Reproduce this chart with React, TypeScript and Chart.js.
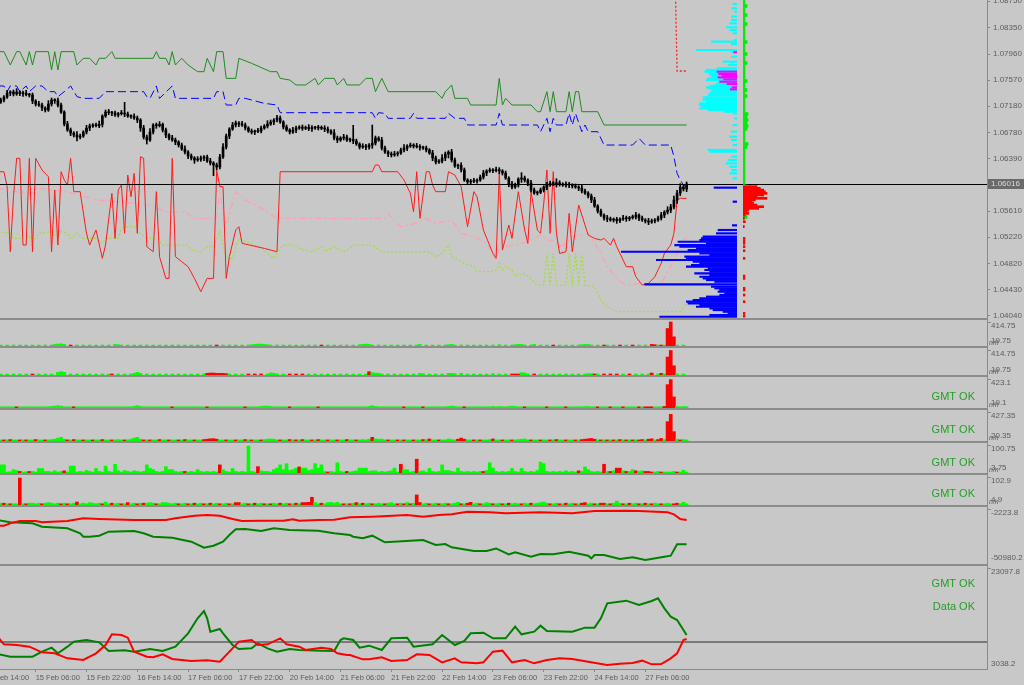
import React, { useEffect, useRef } from "react";
import { Chart, registerables } from "chart.js";

Chart.register(...registerables);

// ---------------- time axis (H1 bars, index 0 = 14 Feb 14:00) ----------------
const FIRST_BAR = 5;
const X_MIN = 4.76;
const X_MAX = 315.6;
const TIME_TICKS = [0, 16, 32, 48, 64, 80, 96, 112, 128, 144, 160, 176, 192, 208];
const TIME_LABELS = [
  "14 Feb 14:00", "15 Feb 06:00", "15 Feb 22:00", "16 Feb 14:00", "17 Feb 06:00",
  "17 Feb 22:00", "20 Feb 14:00", "21 Feb 06:00", "21 Feb 22:00", "22 Feb 14:00",
  "23 Feb 06:00", "23 Feb 22:00", "24 Feb 14:00", "27 Feb 06:00",
];

// ---------------- price panel ----------------
const PRICE_MIN = 1.04009;
const PRICE_MAX = 1.08769;
const PRICE_TICKS = [1.0404, 1.0443, 1.0482, 1.0522, 1.0561, 1.0639, 1.0678, 1.0718, 1.0757, 1.0796, 1.0835, 1.0875];
const LAST_PRICE = 1.06016;
const OPEN_FIRST = 1.0724;

const CLOSES = [
  1.07272, 1.07317, 1.07377, 1.07392, 1.07362, 1.07392, 1.07367, 1.07377, 1.07352, 1.07347,
  1.07257, 1.07212, 1.07197, 1.07152, 1.07122, 1.07212, 1.07272, 1.07262, 1.07197, 1.07092,
  1.06913, 1.06823, 1.06778, 1.06748, 1.06718, 1.06733, 1.06793, 1.06853, 1.06883, 1.06898,
  1.06888, 1.06908, 1.07032, 1.07092, 1.07082, 1.07077, 1.07047, 1.07067, 1.07077, 1.07062,
  1.07032, 1.07027, 1.07003, 1.06973, 1.06853, 1.06718, 1.06673, 1.06793, 1.06898, 1.06888,
  1.06908, 1.06823, 1.06748, 1.06703, 1.06673, 1.06643, 1.06598, 1.06538, 1.06494, 1.06434,
  1.06404, 1.06374, 1.06384, 1.06404, 1.06419, 1.06359, 1.06329, 1.06299, 1.06269, 1.06419,
  1.06568, 1.06733, 1.06838, 1.06898, 1.06928, 1.06913, 1.06898, 1.06853, 1.06808, 1.06793,
  1.06803, 1.06808, 1.06853, 1.06883, 1.06913, 1.06943, 1.06973, 1.07003, 1.06943, 1.06868,
  1.06823, 1.06793, 1.06823, 1.06853, 1.06868, 1.06848, 1.06863, 1.06843, 1.06858, 1.06853,
  1.06863, 1.06848, 1.06838, 1.06808, 1.06778, 1.06703, 1.06673, 1.06703, 1.06718, 1.06673,
  1.06683, 1.06658, 1.06613, 1.06568, 1.06578, 1.06568, 1.06598, 1.06628, 1.06703, 1.06673,
  1.06553, 1.06494, 1.06464, 1.06449, 1.06464, 1.06479, 1.06524, 1.06553, 1.06583, 1.06598,
  1.06583, 1.06573, 1.06563, 1.06553, 1.06524, 1.06479, 1.06404, 1.06344, 1.06359, 1.06404,
  1.06464, 1.06494, 1.06374, 1.06284, 1.06294, 1.06224, 1.06074, 1.06044, 1.06054, 1.06059,
  1.06074, 1.06119, 1.06179, 1.06209, 1.06224, 1.06214, 1.06229, 1.06209, 1.06179, 1.06104,
  1.06014, 1.0597, 1.05999, 1.06089, 1.06104, 1.06074, 1.06029, 1.05925, 1.0588, 1.0589,
  1.05925, 1.0597, 1.05999, 1.06029, 1.06019, 1.06034, 1.06014, 1.05999, 1.06009, 1.05999,
  1.05985, 1.0597, 1.05955, 1.0591, 1.0588, 1.05835, 1.05775, 1.05685, 1.0561, 1.0555,
  1.05505, 1.0549, 1.05476, 1.05486, 1.05466, 1.0549, 1.05505, 1.05495, 1.0551, 1.0552,
  1.0555, 1.05505, 1.05476, 1.05461, 1.05446, 1.05461, 1.05476, 1.05505, 1.0555, 1.05595,
  1.05625, 1.0567, 1.05775, 1.0588, 1.0597, 1.0594, 1.06016,
];
// wick extensions in pips (0.0001)
const WICK_UP_PIPS = [
  3, 2, 4, 2, 3, 5, 2, 3, 4, 2, 3, 2, 4, 3, 2, 5, 3, 2, 4, 3,
  2, 4, 3, 2, 5, 3, 2, 4, 3, 2, 3, 5, 2, 3, 4, 2, 3, 2, 4, 16,
  3, 2, 4, 3, 2, 4, 3, 5, 2, 3, 4, 2, 3, 2, 4, 3, 2, 3, 5, 2,
  3, 2, 4, 3, 2, 3, 4, 2, 3, 4, 5, 3, 2, 4, 3, 2, 4, 3, 2, 3,
  2, 4, 3, 2, 5, 3, 2, 4, 3, 2, 3, 2, 4, 3, 2, 3, 2, 4, 3, 2,
  3, 2, 4, 3, 2, 5, 3, 2, 4, 3, 2, 21, 3, 2, 4, 3, 2, 27, 3, 2,
  4, 3, 2, 3, 4, 2, 3, 5, 2, 3, 2, 4, 3, 2, 3, 2, 4, 3, 2, 5,
  3, 2, 4, 3, 2, 4, 3, 2, 3, 4, 2, 3, 4, 2, 3, 2, 4, 3, 2, 3,
  2, 4, 3, 2, 8, 3, 2, 4, 3, 2, 3, 2, 4, 3, 2, 6, 3, 2, 4, 3,
  2, 3, 2, 4, 3, 2, 3, 4, 2, 3, 2, 4, 3, 2, 3, 2, 4, 3, 2, 3,
  4, 2, 3, 2, 4, 3, 2, 3, 4, 2, 5, 4, 6, 4, 5, 4, 3,
];
const WICK_DN_PIPS = [
  2, 3, 2, 4, 3, 2, 3, 4, 2, 3, 4, 3, 2, 4, 3, 2, 3, 4, 3, 2,
  3, 2, 4, 3, 6, 3, 2, 3, 4, 2, 2, 3, 4, 2, 3, 4, 2, 3, 2, 4,
  2, 3, 2, 4, 5, 3, 6, 2, 3, 4, 2, 3, 4, 3, 2, 4, 3, 2, 3, 4,
  3, 5, 2, 3, 4, 2, 3, 16, 4, 3, 2, 3, 4, 2, 3, 4, 2, 3, 2, 3,
  4, 2, 3, 2, 3, 2, 4, 3, 2, 3, 2, 3, 2, 4, 2, 3, 2, 3, 4, 2,
  3, 2, 4, 3, 2, 3, 4, 2, 3, 2, 3, 4, 2, 3, 2, 4, 3, 5, 3, 2,
  3, 2, 4, 3, 2, 3, 2, 3, 4, 2, 3, 2, 4, 2, 3, 2, 4, 3, 2, 3,
  4, 6, 3, 2, 4, 3, 2, 3, 4, 2, 3, 2, 3, 4, 2, 3, 2, 4, 3, 2,
  4, 3, 2, 3, 5, 3, 4, 3, 2, 3, 2, 3, 4, 2, 3, 5, 3, 2, 3, 4,
  3, 2, 4, 3, 2, 3, 4, 2, 3, 2, 3, 4, 2, 3, 4, 3, 2, 4, 3, 2,
  3, 4, 2, 3, 4, 2, 3, 2, 3, 4, 3, 4, 3, 5, 4, 3, 4,
];

// indicator lines on the price panel: [bar index, price]
const GREEN_BAND = [
  [4, 1.07996], [6, 1.07996], [8, 1.07796], [10, 1.07996], [11, 1.07996], [13, 1.07796], [14, 1.07996], [15, 1.07796], [16, 1.07996],
  [20, 1.07996], [21, 1.07721], [22, 1.07996], [23, 1.07721], [24, 1.07996], [28, 1.07996], [29, 1.07796], [31, 1.07896], [33, 1.07896],
  [35, 1.07796], [36, 1.07896], [38, 1.07896], [40, 1.07996], [41, 1.07896], [53, 1.07896], [54, 1.07996], [55, 1.07896], [57, 1.07896],
  [58, 1.07796], [59, 1.07996], [60, 1.07796], [62, 1.07896], [64, 1.07796], [67, 1.07696], [69, 1.07696], [70, 1.07896], [72, 1.07696],
  [73, 1.07996], [75, 1.07996], [76, 1.07596], [79, 1.07596], [80, 1.07896], [84, 1.07821], [90, 1.07696], [92, 1.07696], [93, 1.07596],
  [96, 1.07571], [98, 1.07497], [101, 1.07497], [104, 1.07596], [105, 1.07497], [107, 1.07596], [110, 1.07596], [111, 1.07497],
  [113, 1.07596], [114, 1.07497], [118, 1.07497], [120, 1.07596], [122, 1.07596], [123, 1.07397], [125, 1.07596], [127, 1.07397],
  [142, 1.07397], [144, 1.07297], [145, 1.07397], [147, 1.07497], [148, 1.07297], [152, 1.07297], [153, 1.07197], [161, 1.07197],
  [162, 1.07596], [163, 1.07197], [164, 1.07297], [166, 1.07197], [172, 1.07197], [174, 1.07097], [175, 1.07097], [177, 1.07397],
  [178, 1.07097], [179, 1.07397], [180, 1.07097], [183, 1.07097], [184, 1.07397], [185, 1.07097], [186, 1.07397], [187, 1.07397],
  [188, 1.07097], [193, 1.07097], [195, 1.06898], [221, 1.06898],
];
const BLUE_BAND = [
  [4, 1.07482], [6, 1.07482], [7, 1.07397], [8, 1.07482], [10, 1.07482], [11, 1.07397], [13, 1.07482], [14, 1.07397], [16, 1.07482],
  [18, 1.07482], [20, 1.07397], [22, 1.07397], [23, 1.07322], [25, 1.07397], [27, 1.07482], [29, 1.07322], [31, 1.07297], [36, 1.07297],
  [38, 1.07397], [50, 1.07397], [51, 1.07322], [52, 1.07297], [54, 1.07482], [55, 1.07297], [59, 1.07482], [60, 1.07297], [72, 1.07297],
  [73, 1.07397], [75, 1.07397], [76, 1.07197], [79, 1.07197], [80, 1.07297], [82, 1.07297], [88, 1.07222], [92, 1.07197], [93, 1.07082],
  [122, 1.07082], [123, 1.06998], [124, 1.07082], [126, 1.07072], [127, 1.06998], [134, 1.06998], [135, 1.07072], [136, 1.06998],
  [145, 1.06998], [146, 1.07072], [148, 1.06998], [151, 1.06998], [152, 1.06898], [161, 1.06898], [162, 1.07072], [163, 1.06898],
  [174, 1.06898], [175, 1.06798], [177, 1.06998], [178, 1.06798], [179, 1.06998], [180, 1.06898], [183, 1.06898], [184, 1.07072],
  [185, 1.06898], [186, 1.07072], [188, 1.06798], [189, 1.06898], [190, 1.06798], [193, 1.06798], [195, 1.06598], [204, 1.06598],
  [206, 1.06698], [208, 1.06598], [216, 1.06598], [217, 1.06424], [218, 1.06174], [219, 1.06074], [220, 1.05999], [221, 1.05975],
];
const RED_SIGNAL = [
  [4, 1.06199], [6, 1.06199], [7, 1.05975], [8, 1.05001], [9, 1.05825], [10, 1.06399], [11, 1.06399], [12, 1.05101], [13, 1.05101],
  [14, 1.06399], [15, 1.05001], [16, 1.06399], [18, 1.06224], [20, 1.06124], [21, 1.05001], [22, 1.05925], [23, 1.05101], [24, 1.06199],
  [25, 1.06074], [26, 1.05999], [27, 1.06399], [28, 1.059], [30, 1.059], [32, 1.05276], [33, 1.05101], [35, 1.05326], [37, 1.04902],
  [38, 1.05101], [40, 1.05875], [41, 1.05201], [42, 1.05925], [43, 1.05999], [44, 1.05276], [45, 1.06149], [46, 1.05825], [47, 1.06174],
  [48, 1.05276], [49, 1.06424], [50, 1.06399], [51, 1.05076], [53, 1.05001], [54, 1.059], [55, 1.04927], [57, 1.04602], [58, 1.04602],
  [59, 1.06399], [60, 1.04927], [62, 1.04852], [64, 1.04777], [66, 1.04602], [68, 1.04403], [70, 1.04602], [72, 1.04602], [73, 1.06224],
  [74, 1.05975], [75, 1.05975], [76, 1.04602], [77, 1.04927], [79, 1.05326], [80, 1.05376], [81, 1.05126], [88, 1.05051], [92, 1.05001],
  [93, 1.06199], [122, 1.06199], [123, 1.06299], [124, 1.06299], [125, 1.06199], [130, 1.06199], [132, 1.06074], [134, 1.05875],
  [135, 1.056], [136, 1.06199], [137, 1.055], [139, 1.06199], [140, 1.06199], [141, 1.05999], [142, 1.059], [145, 1.059], [146, 1.06199],
  [148, 1.06149], [150, 1.05975], [152, 1.05376], [154, 1.059], [155, 1.05825], [157, 1.05326], [160, 1.04976], [161, 1.04902],
  [162, 1.06174], [163, 1.05026], [165, 1.05401], [166, 1.05201], [168, 1.059], [170, 1.05326], [171, 1.05126], [172, 1.059],
  [174, 1.05326], [175, 1.05276], [176, 1.05725], [177, 1.06224], [178, 1.05276], [179, 1.06199], [180, 1.05276], [181, 1.04976],
  [183, 1.05001], [184, 1.05575], [185, 1.05001], [187, 1.057], [190, 1.05251], [192, 1.05201], [194, 1.05176], [195, 1.05201],
  [197, 1.05101], [198, 1.05201], [199, 1.05076], [201, 1.04877], [202, 1.04777], [204, 1.04777], [205, 1.04627], [207, 1.04502],
  [209, 1.04527], [211, 1.04627], [213, 1.04827], [214, 1.04976], [216, 1.05101], [217, 1.05276], [218, 1.05775], [219, 1.058], [221, 1.058],
];
const PINK_SIGNAL = [
  [4, 1.0595], [10, 1.059], [15, 1.05875], [16, 1.0595], [26, 1.059], [31, 1.05825], [36, 1.05775], [48, 1.05725], [53, 1.05675],
  [57, 1.056], [63, 1.056], [66, 1.055], [72, 1.055], [73, 1.05525], [74, 1.05875], [76, 1.05401], [79, 1.059], [82, 1.05775],
  [88, 1.05625], [92, 1.055], [126, 1.055], [127, 1.05575], [129, 1.05451], [131, 1.05376], [134, 1.05401], [137, 1.05451],
  [139, 1.055], [140, 1.05475], [142, 1.05426], [147, 1.05475], [150, 1.05276], [154, 1.05226], [158, 1.05126], [160, 1.04976],
  [161, 1.04927], [162, 1.05051], [164, 1.05076], [167, 1.05101], [171, 1.05151], [175, 1.05251], [177, 1.05176], [179, 1.05176],
  [181, 1.05076], [183, 1.05126], [185, 1.05226], [190, 1.05276], [194, 1.04976], [196, 1.04777], [199, 1.04602], [201, 1.04527],
  [203, 1.04502], [206, 1.04527], [209, 1.04502], [213, 1.04527], [216, 1.04777], [218, 1.04976], [220, 1.05176], [221, 1.05201],
];
const LIME_SIGNAL = [
  [4, 1.05301], [8, 1.05276], [9, 1.05201], [11, 1.05201], [13, 1.05276], [14, 1.05201], [16, 1.05201], [17, 1.05276], [21, 1.05301],
  [23, 1.05201], [24, 1.05301], [26, 1.05276], [27, 1.05201], [29, 1.05276], [31, 1.05201], [35, 1.05201], [37, 1.05126], [38, 1.05201],
  [42, 1.05201], [43, 1.05351], [45, 1.05376], [47, 1.05376], [49, 1.05276], [51, 1.05201], [54, 1.05201], [56, 1.05101], [64, 1.05101],
  [65, 1.05026], [68, 1.05001], [70, 1.05076], [72, 1.05076], [74, 1.05301], [76, 1.04902], [78, 1.04902], [80, 1.05201], [87, 1.05051],
  [91, 1.04902], [93, 1.05051], [94, 1.05101], [97, 1.05101], [99, 1.05051], [103, 1.05001], [106, 1.05076], [107, 1.05001],
  [110, 1.05076], [113, 1.05001], [115, 1.05051], [116, 1.05101], [122, 1.05101], [125, 1.05001], [140, 1.05001], [142, 1.04927],
  [144, 1.04976], [146, 1.05101], [147, 1.04927], [151, 1.04827], [154, 1.04777], [155, 1.04702], [160, 1.04702], [161, 1.04727],
  [162, 1.04827], [163, 1.04727], [164, 1.04777], [166, 1.04727], [167, 1.04627], [170, 1.04677], [174, 1.04502], [176, 1.04502],
  [177, 1.04976], [178, 1.04502], [179, 1.04976], [180, 1.04502], [183, 1.04502], [184, 1.04976], [185, 1.04502], [186, 1.04976],
  [187, 1.04502], [188, 1.04976], [189, 1.04502], [192, 1.04478], [194, 1.04278], [196, 1.04178], [199, 1.04103], [219, 1.04103],
  [221, 1.04228],
];
const RED_TARGET = [[217, 1.1], [218, 1.07706], [221, 1.07706]];

// volume profile: [price, volume]
const PROFILE_CYAN = [
  [1.08709, 12], [1.08644, 17], [1.08594, 7], [1.0852, 17], [1.0847, 17], [1.0842, 22], [1.0836, 32], [1.0832, 22], [1.0827, 12],
  [1.0817, 7], [1.08145, 77], [1.0811, 17], [1.0802, 122], [1.07996, 17], [1.07921, 17], [1.07846, 42], [1.07796, 27], [1.07746, 60],
  [1.07721, 92], [1.07696, 97], [1.07671, 85], [1.07646, 82], [1.07621, 75], [1.07611, 57], [1.07596, 88], [1.07571, 92], [1.07546, 52],
  [1.07522, 60], [1.07497, 67], [1.07482, 80], [1.07462, 92], [1.07442, 85], [1.07422, 72], [1.07397, 78], [1.07372, 82], [1.07347, 87],
  [1.07312, 102], [1.07297, 95], [1.07272, 102], [1.07247, 92], [1.07222, 112], [1.07197, 114], [1.07172, 107], [1.07147, 112],
  [1.07122, 87], [1.07097, 40], [1.07072, 12], [1.06998, 7], [1.06898, 12], [1.06798, 17], [1.06723, 22], [1.06673, 17], [1.06598, 12],
  [1.06524, 87], [1.06499, 82], [1.06424, 17], [1.06374, 27], [1.06324, 32], [1.06274, 22], [1.06224, 17], [1.06174, 22], [1.06099, 12],
];
const PROFILE_MAGENTA = [
  [1.07986, 10], [1.07696, 60], [1.07661, 55], [1.07631, 45], [1.07611, 57], [1.07581, 40], [1.07546, 52], [1.07512, 30],
  [1.07462, 15], [1.07432, 20],
];
const PROFILE_BLUE = [
  [1.0596, 69], [1.0575, 12], [1.05396, 14], [1.05326, 57], [1.05276, 62], [1.05226, 102], [1.05201, 107], [1.05176, 112],
  [1.05151, 177], [1.05126, 92], [1.05101, 187], [1.05076, 172], [1.05051, 122], [1.05026, 147], [1.05001, 347], [1.04976, 112],
  [1.04952, 82], [1.04927, 157], [1.04902, 152], [1.04877, 242], [1.04852, 132], [1.04827, 112], [1.04802, 137], [1.04777, 152],
  [1.04752, 87], [1.04727, 97], [1.04702, 82], [1.04677, 127], [1.04652, 82], [1.04627, 112], [1.04602, 102], [1.04577, 92],
  [1.04552, 67], [1.04513, 277], [1.04478, 77], [1.04453, 67], [1.04428, 52], [1.04403, 57], [1.04378, 37], [1.04353, 52],
  [1.04328, 92], [1.04303, 112], [1.04278, 132], [1.04253, 152], [1.04228, 147], [1.04203, 112], [1.04178, 122], [1.04153, 82],
  [1.04128, 72], [1.04103, 42], [1.04078, 27], [1.04053, 82], [1.04028, 232],
];
const PROFILE_RED_RIGHT = [
  [1.05975, 42], [1.0595, 52], [1.05925, 62], [1.059, 67], [1.05875, 72], [1.0585, 62], [1.05825, 42], [1.058, 72], [1.05775, 37],
  [1.0575, 27], [1.05725, 32], [1.057, 42], [1.05675, 62], [1.0565, 47], [1.05625, 17], [1.056, 12], [1.05575, 17], [1.0555, 7],
  [1.055, 4], [1.05451, 7], [1.05376, 4], [1.05201, 6], [1.05166, 6], [1.05126, 6], [1.05076, 6], [1.05016, 6], [1.04902, 6],
  [1.04637, 6], [1.04602, 6], [1.04453, 6], [1.04428, 6], [1.04353, 6], [1.04253, 6], [1.04078, 6], [1.04038, 6],
];
const PROFILE_GREEN_RIGHT = [
  [1.08769, 6], [1.08724, 6], [1.08679, 12], [1.08634, 6], [1.08589, 6], [1.08544, 12], [1.085, 6], [1.08455, 6], [1.0841, 12],
  [1.08365, 6], [1.0832, 6], [1.08275, 6], [1.0823, 6], [1.08185, 6], [1.0814, 12], [1.08095, 6], [1.0805, 6], [1.08005, 6],
  [1.07961, 12], [1.07916, 6], [1.07871, 6], [1.07826, 12], [1.07781, 6], [1.07736, 6], [1.07691, 6], [1.07646, 6], [1.07601, 6],
  [1.07556, 12], [1.07511, 6], [1.07466, 6], [1.07422, 12], [1.07377, 6], [1.07332, 12], [1.07287, 6], [1.07242, 6], [1.07197, 6],
  [1.07152, 6], [1.07107, 6], [1.07062, 15], [1.07017, 12], [1.06973, 15], [1.06928, 12], [1.06883, 15], [1.06838, 12], [1.06793, 6],
  [1.06748, 6], [1.06703, 6], [1.06658, 6], [1.06613, 15], [1.06568, 12], [1.06524, 6], [1.06479, 6], [1.06434, 6], [1.06389, 6],
  [1.06344, 6], [1.06299, 6], [1.06254, 6], [1.06209, 6], [1.06164, 6], [1.06119, 6], [1.06075, 6], [1.0603, 6], [1.0552, 12],
];

// ---------------- sub panels (signed: + green, - red) ----------------
const VOL_A = [
  35, 0, 35, 0, 35, 0, 35, 0, 35, 0, 35, 0, 35, 0, 35, 0, 35, 45, 50, 55,
  45, 0, -35, 0, 35, 0, 35, 0, 35, 0, 35, 0, 35, 0, 35, 0, 45, 40, 35, 0,
  35, 0, 35, 0, 35, 0, 35, 0, 35, 0, 35, 0, 35, 0, 35, 0, 35, 0, 35, 0,
  35, 0, 35, 0, 35, 0, 35, 0, -35, 0, 35, 0, 35, 0, 35, 0, 35, 0, 35, 40,
  45, 50, 50, 45, 40, 35, 0, 35, 0, 35, 0, 35, 0, 35, 0, 35, 0, 35, 0, 35,
  0, -35, 0, 35, 0, 35, 0, 35, 0, 35, 0, 35, 0, 40, 45, 50, 45, 35, 0, 35,
  0, 35, 0, 35, 0, 35, 0, 35, 0, 35, 0, 35, 45, 0, 35, 0, 35, 0, 35, 0,
  35, 40, 45, 35, 0, 35, 0, 35, 0, 35, 0, 35, 0, 35, 0, 35, 0, 40, 0, 35,
  0, 35, 40, 45, 45, 35, 0, 35, 45, 0, 35, 0, 35, 0, -35, 0, 35, 0, 35, 0,
  35, 0, 35, 40, 45, 45, 35, 0, 35, 0, -35, 35, 0, 35, 0, -35, 0, 35, 0, -35,
  0, 35, 0, 35, 0, -45, -40, 35, -35, 35, -296, -399, -165, 35, 0, 35, 0,
];
const VOL_B = [
  35, 0, 35, 0, 35, 0, 35, 0, 35, 0, -35, 0, 35, 0, 35, 0, 35, 0, 60, 70,
  60, 0, 35, 0, 35, 0, 35, 0, 35, 0, 35, 0, 35, 0, 35, -35, 0, 35, 0, 35,
  0, 35, 45, 60, 45, 0, 35, 0, 35, 0, 35, 0, 35, 0, 35, 0, 35, 0, 35, 0,
  35, 0, 35, 0, 35, -45, -50, -50, -45, -45, -45, -40, 35, 0, 35, 0, 35, 0, -35, 0,
  -35, 0, -35, 0, 35, 50, 45, 35, 0, 35, 0, -35, 0, -35, 0, -35, 0, 35, 0, 35,
  0, 35, 0, 35, 0, 35, 0, 35, 0, 35, 0, 35, 0, 35, 0, 35, -70, 55, 50, 45,
  35, 0, 35, 0, 35, 0, 35, 0, 35, 0, 35, 0, 45, 40, 0, 35, 0, 35, 0, 35,
  0, 45, 45, 40, 0, 45, 0, 35, 0, 35, 0, 35, 0, 35, 0, 40, 0, 35, 0, 35,
  0, -35, -35, -35, 55, 50, 35, 0, -35, 0, 35, 0, 35, 0, 35, 0, 35, 0, 35, 0,
  35, 0, 35, 0, 35, 40, 40, -35, 35, 0, -35, 0, -35, 0, -35, 0, 35, 0, -35, 0,
  35, 0, 35, 0, 35, -50, 0, 35, -45, 35, -293, -392, -160, 35, 0, 35, 0,
];
const VOL_C = [
  35, 35, 35, 35, 35, -35, 35, 35, 35, 35, 35, 35, 35, 35, 35, 35, 40, 45, 50, 45,
  35, 35, 35, -35, 35, 35, 35, 35, 35, 35, 35, 35, 35, 35, 35, 35, 35, 35, 35, 35,
  35, 35, 40, 50, 40, 35, 35, 35, 35, 35, 35, 35, 35, 35, -35, 35, 35, 35, 35, 35,
  35, 35, 35, 35, 35, -35, 35, 35, 35, 35, 35, 35, 35, 35, 35, 35, 35, -35, 35, 35,
  35, 35, 40, 45, 45, 40, 35, 35, 35, 35, 35, -35, 35, 35, 35, 35, 35, 35, 35, 35,
  -35, 35, 35, 35, 35, 35, 35, 35, 35, 35, 35, 35, 35, 35, 35, 35, 40, 50, 40, 35,
  35, 35, 35, 35, 35, 35, 35, -35, 35, 35, 35, 35, 35, -35, 35, 35, 35, 35, 35, 35,
  35, 40, 45, 40, 35, 35, -35, 35, 35, 35, 35, 35, 35, 35, 35, 40, 35, 40, 35, 35,
  40, 45, 40, 35, 35, -35, 35, 35, 35, 35, 35, 35, -35, 35, 35, 35, 35, 35, -35, 35,
  35, 35, 35, 35, 40, 40, 35, 35, -35, 35, 35, 35, -35, 35, 35, 35, -35, 35, 35, 35,
  35, -35, 35, -35, -35, -35, 35, 35, 35, -40, -334, -401, -168, 40, 35, 40, 35,
];
const VOL_D = [
  35, -35, 35, -40, 35, 35, -35, 35, -35, 35, 35, -40, 35, 35, -35, 35, 40, 45, 60, 70,
  45, -35, 35, -40, 35, 35, -35, 35, 35, -35, 35, 35, -40, 35, 35, -35, 35, 40, 35, -35,
  35, 45, 60, 70, 45, -35, 35, -35, 35, 35, -40, 35, 35, -35, 35, 35, -35, 35, -40, 35,
  35, -35, 35, 35, -40, -45, -50, -52, -45, 35, 35, -35, 35, 35, -35, 35, 35, -40, 35, -35,
  35, 35, -35, 40, 45, 48, 45, 35, -35, 35, 35, -40, 35, -35, 35, -40, 35, 35, -35, 35,
  -40, 35, 35, -35, 35, 35, -35, 35, 35, -40, 35, 35, -35, 35, 40, 35, 45, -70, 48, 45,
  45, 35, -35, 35, 35, -35, 35, -35, 35, 35, -35, 35, 35, -40, 40, -48, 35, 35, -35, 35,
  35, 48, 40, 35, -45, -60, -45, 35, 35, -35, 35, -35, 35, 35, 40, -48, 35, 35, -35, 35,
  35, -35, 35, 40, 45, 48, 35, -35, 35, 35, -35, 35, 35, -35, 35, -40, 35, 35, -35, 35,
  35, -35, 35, -40, -45, -50, -55, -45, 35, -35, 35, -35, 35, -35, 35, -40, 35, -35, 35, -35,
  35, -35, -40, 35, -45, -50, 35, -40, -55, 40, -283, -382, -147, 45, -35, 40, 35,
];
const VOL_E = [
  31, 31, 7, 8, 15, 12, -9, 7, 8, -9, 9, 7, 19, 19, 9, 9, 7, 11, 7, 9,
  -11, 7, 27, 27, 7, 9, 7, 12, 9, 7, 19, 9, 7, 27, 9, 7, 33, 11, 7, 12,
  9, 7, 11, 9, 7, 9, 31, 19, 15, 9, 7, 9, 25, 15, 15, 9, 7, 9, -9, 7,
  9, 7, 15, 9, 7, 9, 7, 9, 7, -31, 15, 9, 7, 19, 9, 7, 9, 7, 94, 9,
  7, -25, 11, 9, 9, 7, 15, 20, 31, 15, 35, 12, 15, 20, -24, 20, 20, 12, 15, 35,
  20, 31, 9, -7, 9, 7, 38, 9, 7, -9, 7, 9, 11, 20, 20, 20, 9, 11, 11, 7,
  9, 7, 9, 11, 20, 7, -33, 15, 15, 7, 9, -50, 9, 11, 7, 19, 9, 7, 9, 31,
  12, 12, 9, 7, 20, 9, 7, 9, 7, 9, 7, 9, -9, 12, 38, 20, 9, 7, 9, 7,
  9, 19, 9, 7, 19, 9, 7, 9, 7, 12, 40, 35, 9, 7, 9, 7, 9, 7, 11, 7,
  9, 7, -11, 9, 24, 15, 9, 7, 9, 7, -33, 9, -9, 11, -20, -20, 11, -9, 9, 15,
  -11, 9, 11, -9, -9, -7, 7, 9, -7, 7, 7, 7, 9, -7, 7, 13, 7,
];
const VOL_F = [
  11, -11, 9, -9, 9, 9, -96, 9, -9, 11, 11, 9, 11, -9, 11, 13, 11, 9, 11, -9,
  11, -9, 9, 11, -15, 9, 11, 9, 13, 11, 9, 11, -9, 15, 9, -11, 9, 11, -9, 9,
  -13, 9, 11, -9, 11, -11, 11, 13, 11, -9, 9, 13, 13, 11, 9, 11, -9, 9, 11, -9,
  9, -11, 9, 11, -9, 9, -11, 9, 11, -9, 9, 11, -9, 9, -13, -13, 9, 11, -9, 9,
  -11, 9, 11, -9, 9, -9, 11, 9, -11, 9, 11, -9, 9, -11, 9, -13, -13, -14, -31, 13,
  9, -11, 9, 13, 14, 11, 14, 9, -9, 9, -9, 11, -13, 9, -11, 9, 11, -9, 9, 11,
  9, -9, 11, 13, 9, -9, 11, -9, 13, -9, 11, -39, -13, 9, 11, -9, 9, 11, -9, 9,
  11, -9, 9, 11, 14, -9, 9, -11, -14, 9, 11, -9, 9, 13, 11, -9, 9, 11, -9, 9,
  -11, 9, 11, 9, -9, 11, 9, -11, 9, 11, 13, 15, 11, -9, 9, 11, -9, 9, -11, 9,
  11, -9, 9, -11, -13, 9, 11, -9, 9, -11, -11, 9, -9, 11, 18, 11, -9, 9, -11, 9,
  11, -9, 9, -11, 9, -9, 11, 9, -9, 9, 11, 9, -9, -11, 9, 14, 9,
];

// panel 8 and 9 lines: [bar index, value]
const FLOW_RED = [
  [4, -17885], [6, -17885], [8, -15817], [11, -13748], [16, -13748], [18, -14931], [26, -13748], [31, -11384], [36, -11975],
  [47, -12862], [57, -12862], [60, -11384], [66, -9020], [70, -8429], [74, -9020], [78, -11975], [81, -13748], [87, -13453],
  [94, -13453], [97, -12271], [99, -13453], [105, -12862], [110, -12566], [115, -10498], [122, -9907], [133, -8429], [138, -9907],
  [143, -8429], [147, -7838], [152, -5474], [159, -6065], [164, -6952], [175, -6065], [185, -6952], [192, -4883], [202, -4588],
  [206, -4883], [215, -6065], [217, -7838], [219, -11975], [221, -12862],
];
const FLOW_GREEN = [
  [4, -12862], [8, -14931], [15, -15817], [18, -18772], [26, -20250], [30, -24682], [31, -27637], [33, -27637], [36, -26751],
  [39, -23204], [47, -22613], [50, -24682], [53, -27637], [59, -28523], [65, -32069], [69, -37388], [72, -35615], [75, -32069],
  [77, -26159], [79, -21136], [82, -20840], [87, -22613], [91, -20250], [96, -21727], [105, -22318], [110, -24682], [115, -26159],
  [116, -27637], [119, -29114], [122, -26751], [126, -32660], [138, -30592], [142, -35024], [145, -34138], [147, -37093],
  [154, -40343], [158, -40343], [161, -38079], [165, -43298], [167, -41525], [172, -45367], [175, -43003], [179, -43298],
  [184, -40934], [190, -44480], [191, -46844], [192, -43889], [195, -43889], [200, -47435], [204, -45958], [208, -48322],
  [214, -45367], [216, -44480], [218, -34433], [221, -34433],
];
const STRENGTH_GREEN = [
  [4, 5989], [8, 5465], [15, 5465], [18, 6448], [21, 7234], [23, 6120], [26, 7431], [28, 8414], [32, 8743], [36, 8284], [39, 6579],
  [44, 6710], [47, 6448], [52, 6972], [56, 6579], [60, 7431], [64, 10053], [67, 13003], [69, 14445], [70, 13003], [71, 10381],
  [74, 10906], [75, 10053], [78, 7759], [80, 6972], [84, 7103], [86, 8087], [89, 7103], [92, 6448], [96, 6972], [99, 6775],
  [106, 6644], [110, 6579], [112, 8743], [113, 9070], [116, 8743], [118, 7234], [121, 7627], [125, 6775], [128, 9070], [133, 9201],
  [135, 7431], [141, 7890], [144, 9725], [148, 7759], [151, 8545], [153, 10053], [157, 10184], [160, 9070], [164, 9070],
  [167, 11364], [169, 9856], [173, 10381], [175, 11561], [177, 10512], [185, 10381], [189, 11167], [192, 11167], [194, 13003],
  [196, 15953], [202, 16477], [206, 15625], [210, 16412], [212, 16936], [214, 14969], [216, 13330], [218, 12675], [221, 9725],
];
const STRENGTH_RED = [
  [4, 9397], [6, 7890], [10, 7759], [14, 7431], [18, 6317], [22, 6120], [26, 5137], [31, 4809], [35, 6120], [38, 7759], [40, 9856],
  [43, 9725], [45, 9201], [47, 6448], [51, 5465], [53, 5334], [56, 5924], [59, 5006], [65, 4612], [70, 4743], [74, 4481], [78, 7103],
  [80, 8414], [84, 8743], [86, 7759], [89, 7890], [93, 9070], [95, 7890], [99, 7431], [101, 6775], [106, 7234], [109, 6972],
  [111, 6120], [114, 5792], [115, 5792], [119, 4940], [121, 4940], [125, 5334], [128, 4612], [133, 4809], [136, 5924], [140, 5792],
  [144, 4350], [148, 5137], [150, 4350], [155, 4154], [157, 4350], [160, 6448], [163, 6644], [166, 4350], [170, 4809], [173, 4154],
  [177, 4809], [181, 5137], [185, 5006], [190, 4481], [196, 3825], [200, 4088], [204, 4219], [207, 4677], [210, 3957], [213, 4023],
  [216, 5137], [218, 6120], [220, 8743], [221, 8939],
];
const STRENGTH_LEVEL = [8350];

// ---------------- styling ----------------
const BG = "#c8c8c8";
const AXIS_TEXT = "#5c5c5c";
const AXIS_LINE = "#8a8a8a";
const NOTE_GREEN = "#24a024";
const FONT_FAMILY = "Liberation Sans";

type Note = { text: string; y: number };

const PANELS = [
  { top: 321, h: 25, min: 19.75, max: 414.75, vals: VOL_A, notes: [] as Note[] },
  { top: 349, h: 26, min: 19.75, max: 414.75, vals: VOL_B, notes: [] as Note[] },
  { top: 378, h: 30, min: 19.1, max: 423.1, vals: VOL_C, notes: [{ text: "GMT OK", y: 18.5 }] },
  { top: 411, h: 30, min: 20.35, max: 427.35, vals: VOL_D, notes: [{ text: "GMT OK", y: 19 }] },
  { top: 444, h: 29, min: 3.75, max: 100.75, vals: VOL_E, notes: [{ text: "GMT OK", y: 19.3 }] },
  { top: 476, h: 29, min: 4.9, max: 102.9, vals: VOL_F, notes: [{ text: "GMT OK", y: 18.3 }] },
];
const SEPARATORS = [318, 346, 375, 408, 441, 473, 505, 564];

const baseOptions = (scales: any, padding: any, extra: any = {}) => ({
  animation: false,
  responsive: false,
  maintainAspectRatio: false,
  events: [],
  layout: { padding },
  plugins: { legend: { display: false }, tooltip: { enabled: false } },
  scales,
  ...extra,
});

const hiddenX = () => ({ type: "linear", min: X_MIN, max: X_MAX, offset: false, display: false });

function sideText(notes: Note[], nn: boolean) {
  return {
    id: "sideText",
    afterDraw(chart: any) {
      const { ctx, chartArea: a } = chart;
      const ys = chart.scales.y;
      ctx.save();
      ctx.fillStyle = AXIS_LINE;
      ctx.fillRect(988, a.top + 1, 3, 1);
      ctx.font = `8px "${FONT_FAMILY}"`;
      ctx.fillStyle = AXIS_TEXT;
      ctx.textAlign = "left";
      ctx.textBaseline = "top";
      ctx.fillText(String(ys.max), 991, a.top + 1);
      ctx.textBaseline = "bottom";
      ctx.fillText(String(ys.min), 991, a.bottom - 1);
      if (nn) {
        ctx.font = `italic 7px "${FONT_FAMILY}"`;
        ctx.fillText("n/n", 989, a.bottom + 1);
      }
      ctx.font = `11px "${FONT_FAMILY}"`;
      ctx.fillStyle = NOTE_GREEN;
      ctx.textAlign = "right";
      ctx.textBaseline = "middle";
      notes.forEach((n) => ctx.fillText(n.text, 975, a.top + n.y));
      ctx.restore();
    },
  };
}

const toXY = (pts: number[][]) => pts.map(([x, y]) => ({ x, y }));

const lineDs = (pts: number[][], color: string, dash: number[], width = 1, order = 5) => ({
  type: "line",
  data: toXY(pts),
  borderColor: color,
  borderWidth: width,
  borderDash: dash,
  pointRadius: 0,
  tension: 0,
  fill: false,
  order,
});

function mainConfig() {
  const bodies: any[] = [];
  const wicks: any[] = [];
  CLOSES.forEach((c, k) => {
    const o = k === 0 ? OPEN_FIRST : CLOSES[k - 1];
    const hi = Math.max(o, c) + WICK_UP_PIPS[k] * 0.0001;
    const lo = Math.min(o, c) - WICK_DN_PIPS[k] * 0.0001;
    bodies.push({ x: FIRST_BAR + k, y: [Math.min(o, c), Math.max(o, c)] });
    wicks.push({ x: FIRST_BAR + k, y: [lo, hi] });
  });
  const priceLine = {
    id: "priceLine",
    afterDatasetsDraw(chart: any) {
      const { ctx, chartArea: a } = chart;
      const py = Math.round(chart.scales.y.getPixelForValue(LAST_PRICE)) + 0.5;
      ctx.save();
      ctx.strokeStyle = "#000";
      ctx.lineWidth = 1;
      ctx.beginPath();
      ctx.moveTo(a.left, py);
      ctx.lineTo(a.right, py);
      ctx.stroke();
      ctx.restore();
    },
    afterDraw(chart: any) {
      const { ctx } = chart;
      const py = chart.scales.y.getPixelForValue(LAST_PRICE);
      ctx.save();
      ctx.fillStyle = "#6a6a6a";
      ctx.fillRect(988, Math.round(py) - 5, 36, 10);
      ctx.fillStyle = "#dcdcdc";
      ctx.font = `8px "${FONT_FAMILY}"`;
      ctx.textAlign = "left";
      ctx.textBaseline = "middle";
      ctx.fillText(LAST_PRICE.toFixed(5), 991, py);
      ctx.restore();
    },
  };
  return {
    type: "bar",
    data: {
      datasets: [
        { type: "bar", data: bodies, backgroundColor: "#000", barThickness: 2, grouped: false, minBarLength: 1, order: 0 },
        { type: "bar", data: wicks, backgroundColor: "#000", barThickness: 1, grouped: false, order: 1 },
        lineDs(GREEN_BAND, "#1f8a1f", [], 1, 2),
        lineDs(BLUE_BAND, "#0000ff", [8, 4], 1, 2),
        lineDs(RED_SIGNAL, "#ff1a1a", [], 1, 3),
        lineDs(PINK_SIGNAL, "#ff9fb2", [7, 3, 2, 3], 1.3, 4),
        lineDs(LIME_SIGNAL, "#9ee03a", [2, 2], 1.3, 4),
        lineDs(RED_TARGET, "#ff2020", [2, 2], 1.3, 4),
      ],
    },
    options: baseOptions(
      {
        x: hiddenX(),
        y: {
          type: "linear",
          position: "right",
          min: PRICE_MIN,
          max: PRICE_MAX,
          afterBuildTicks: (s: any) => {
            s.ticks = PRICE_TICKS.map((v) => ({ value: v }));
          },
          afterFit: (s: any) => {
            s.width = 37;
            s.paddingTop = 0;
            s.paddingBottom = 0;
          },
          ticks: {
            autoSkip: false,
            padding: 3,
            color: AXIS_TEXT,
            font: { family: FONT_FAMILY, size: 8 },
            callback: (v: any) => Number(v).toFixed(5),
          },
          grid: { drawOnChartArea: false, drawTicks: true, tickLength: 3, color: AXIS_LINE },
          border: { display: false },
        },
      },
      { left: 0, right: 0, top: 0, bottom: 4 }
    ),
    plugins: [priceLine],
  };
}

function volumeConfig(p: any) {
  const pts: any[] = [];
  const colors: string[] = [];
  p.vals.forEach((v: number, k: number) => {
    if (!v) return;
    pts.push({ x: FIRST_BAR + k, y: Math.abs(v) });
    colors.push(v > 0 ? "#00ff00" : "#ff0000");
  });
  return {
    type: "bar",
    data: { datasets: [{ data: pts, backgroundColor: colors, barThickness: 3, grouped: false, borderWidth: 0 }] },
    options: baseOptions(
      { x: hiddenX(), y: { type: "linear", display: false, min: p.min, max: p.max } },
      { left: 0, right: 37, top: 0, bottom: 0 }
    ),
    plugins: [sideText(p.notes, true)],
  };
}

function flowConfig() {
  return {
    type: "line",
    data: {
      datasets: [
        lineDs(FLOW_RED, "#ff0000", [], 2, 1),
        lineDs(FLOW_GREEN, "#008000", [], 2, 2),
      ],
    },
    options: baseOptions(
      { x: hiddenX(), y: { type: "linear", display: false, min: -50980.2, max: -2223.8 } },
      { left: 0, right: 37, top: 0, bottom: 0 }
    ),
    plugins: [sideText([], false)],
  };
}

function strengthConfig() {
  const level = STRENGTH_LEVEL.map((v) => [[X_MIN, v], [X_MAX, v]]);
  return {
    type: "line",
    data: {
      datasets: [
        lineDs(STRENGTH_RED, "#ff0000", [], 2, 1),
        lineDs(STRENGTH_GREEN, "#008000", [], 2, 2),
        ...level.map((pts) => lineDs(pts, "#7a7a7a", [], 2, 3)),
      ],
    },
    options: baseOptions(
      {
        x: {
          type: "linear",
          min: X_MIN,
          max: X_MAX,
          offset: false,
          position: "bottom",
          afterBuildTicks: (s: any) => {
            s.ticks = TIME_TICKS.map((v) => ({ value: v }));
          },
          afterFit: (s: any) => {
            s.height = 16;
            s.paddingLeft = 0;
            s.paddingRight = 0;
          },
          ticks: {
            autoSkip: false,
            maxRotation: 0,
            minRotation: 0,
            align: "start",
            padding: 1,
            color: AXIS_TEXT,
            font: { family: FONT_FAMILY, size: 7.5 },
            callback: (v: any) => TIME_LABELS[TIME_TICKS.indexOf(Number(v))] ?? "",
          },
          grid: { drawOnChartArea: false, drawTicks: true, tickLength: 3, color: AXIS_LINE },
          border: { display: false },
        },
        y: { type: "linear", display: false, min: 3038.2, max: 23097.8 },
      },
      { left: 0, right: 37, top: 0, bottom: 0 }
    ),
    plugins: [
      sideText(
        [
          { text: "GMT OK", y: 17.3 },
          { text: "Data OK", y: 39.7 },
        ],
        false
      ),
    ],
  };
}

function profileLeftConfig() {
  const rows = (pts: number[][]) => pts.map(([p, v]) => ({ x: v, y: p }));
  return {
    type: "bar",
    data: {
      datasets: [
        { data: rows(PROFILE_MAGENTA), backgroundColor: "#ff00ff", barThickness: 1.5, grouped: false, order: 0 },
        { data: rows(PROFILE_CYAN), backgroundColor: "#00ffff", barThickness: 1.5, grouped: false, order: 1 },
        { data: rows(PROFILE_BLUE), backgroundColor: "#0000ff", barThickness: 1.5, grouped: false, order: 1 },
      ],
    },
    options: baseOptions(
      {
        x: { type: "linear", min: 0, max: 411, reverse: true, display: false },
        y: { type: "linear", min: PRICE_MIN, max: PRICE_MAX, offset: false, display: false },
      },
      0,
      { indexAxis: "y" }
    ),
  };
}

function profileRightConfig() {
  const rows = (pts: number[][]) => pts.map(([p, v]) => ({ x: v, y: p }));
  return {
    type: "bar",
    data: {
      datasets: [
        { data: rows(PROFILE_RED_RIGHT), backgroundColor: "#ff0000", barThickness: 2, grouped: false, order: 0 },
        { data: rows(PROFILE_GREEN_RIGHT), backgroundColor: "#00ee00", barThickness: 3, grouped: false, order: 1 },
      ],
    },
    options: baseOptions(
      {
        x: { type: "linear", min: 0, max: 135, display: false },
        y: { type: "linear", min: PRICE_MIN, max: PRICE_MAX, offset: false, display: false },
      },
      0,
      { indexAxis: "y" }
    ),
  };
}

const CANVASES = [
  { left: 0, top: 0, w: 1024, h: 322 },
  ...PANELS.map((p) => ({ left: 0, top: p.top, w: 1024, h: p.h })),
  { left: 0, top: 508, w: 1024, h: 55 },
  { left: 0, top: 567, w: 1024, h: 118 },
  { left: 600, top: 0, w: 137, h: 318 },
  { left: 743, top: 0, w: 45, h: 318 },
];

export default function App() {
  const refs = useRef<(HTMLCanvasElement | null)[]>([]);
  useEffect(() => {
    const configs: any[] = [
      mainConfig(),
      ...PANELS.map((p) => volumeConfig(p)),
      flowConfig(),
      strengthConfig(),
      profileLeftConfig(),
      profileRightConfig(),
    ];
    const charts: Chart[] = [];
    configs.forEach((cfg, i) => {
      const el = refs.current[i];
      if (el) charts.push(new Chart(el, cfg));
    });
    return () => charts.forEach((c) => c.destroy());
  }, []);

  return (
    <div style={{ position: "fixed", left: 0, top: 0, width: 1024, height: 685, background: BG, overflow: "hidden" }}>
      {SEPARATORS.map((y) => (
        <div key={"s" + y} style={{ position: "absolute", left: 0, top: y, width: 988, height: 2, background: "#8c8c8c" }} />
      ))}
      <div style={{ position: "absolute", left: 0, top: 669, width: 988, height: 1, background: AXIS_LINE }} />
      <div style={{ position: "absolute", left: 987, top: 0, width: 1, height: 670, background: AXIS_LINE }} />
      {CANVASES.map((c, i) => (
        <canvas
          key={i}
          ref={(el) => {
            refs.current[i] = el;
          }}
          width={c.w}
          height={c.h}
          style={{ position: "absolute", left: c.left, top: c.top, width: c.w, height: c.h }}
        />
      ))}
    </div>
  );
}
